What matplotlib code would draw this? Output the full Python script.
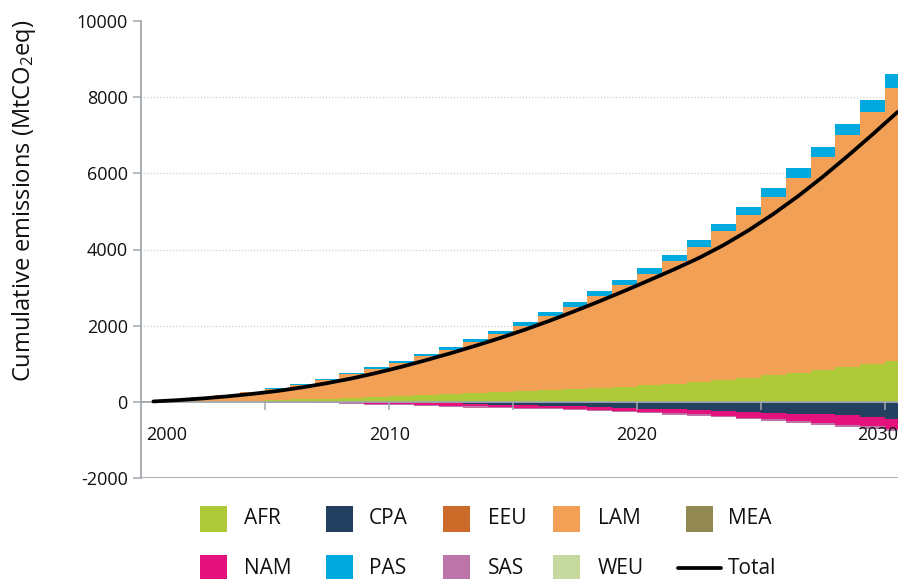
import numpy as np
import matplotlib
matplotlib.use("Agg")
import matplotlib.pyplot as plt
from matplotlib.patches import Rectangle
from matplotlib.lines import Line2D

plt.rcParams['font.family'] = ['Open Sans', 'DejaVu Sans']
plt.rcParams['mathtext.fontset'] = 'custom'
plt.rcParams['mathtext.rm'] = 'Open Sans'
plt.rcParams['mathtext.it'] = 'Open Sans'

# ---------------- data ----------------
years = list(range(2000, 2031))
series_names = ["AFR", "CPA", "EEU", "LAM", "MEA", "NAM", "PAS", "SAS", "WEU"]
AFR = [3, 8, 14, 22, 32, 45, 62, 80, 100, 120, 142, 167, 193, 220, 248, 275, 305, 337,
       370, 400, 437, 478, 528, 580, 636, 700, 766, 843, 922, 1000, 1071]
CPA = [0, 0, 0, 0, 0, 0, 0, 0, 0, -5, -10, -18, -30, -55, -80, -92, -102, -118, -136,
       -160, -178, -195, -220, -235, -262, -285, -310, -328, -358, -392, -445]
EEU = [0] * 31
LAM = [15, 48, 95, 149, 216, 294, 388, 500, 625, 748, 883, 1035, 1176, 1349, 1529, 1728,
       1942, 2162, 2406, 2663, 2922, 3218, 3541, 3897, 4273, 4682, 5123, 5584, 6081, 6602,
       7176]
MEA = [0] * 31
NAM = [0, -2, -4, -6, -9, -12, -16, -20, -35, -50, -60, -65, -75, -62, -57, -60, -63, -70,
       -75, -80, -85, -95, -110, -130, -150, -172, -200, -220, -240, -250, -260]
PAS = [2, 4, 6, 9, 12, 16, 20, 25, 30, 37, 45, 53, 62, 72, 82, 92, 102, 113, 125, 135, 145,
       158, 170, 190, 205, 222, 248, 272, 300, 320, 350]
SAS = [-1, -2, -4, -6, -8, -10, -12, -15, -18, -22, -26, -28, -30, -32, -32, -33, -35, -37,
       -40, -40, -42, -44, -46, -46, -48, -50, -52, -58, -60, -62, -65]
WEU = [0] * 31
TOTAL = [10, 45, 90, 145, 210, 285, 380, 490, 615, 760, 920, 1095, 1280, 1475, 1680, 1900,
         2135, 2385, 2645, 2915, 3195, 3480, 3780, 4120, 4505, 4935, 5405, 5915, 6460, 7025,
         7610]
x_tick_labels = ["2000", "2010", "2020", "2030"]
y_ticks = [-2000, 0, 2000, 4000, 6000, 8000, 10000]

colors = {"AFR": "#adc937", "CPA": "#234060", "EEU": "#cc6a29", "LAM": "#f3a057",
          "MEA": "#928852", "NAM": "#e5127e", "PAS": "#00aadf", "SAS": "#bb75a8",
          "WEU": "#c5d89e"}
values = {"AFR": AFR, "CPA": CPA, "EEU": EEU, "LAM": LAM, "MEA": MEA, "NAM": NAM,
          "PAS": PAS, "SAS": SAS, "WEU": WEU}

GRAY = "#a3a8ad"
W, H = 898, 579

fig = plt.figure(figsize=(W / 100, H / 100), dpi=100)
ax = fig.add_axes([141 / W, 1 - 478 / H, 1 - 141 / W, (478 - 21) / H])

x = np.array(years, dtype=float)
pos_base = np.zeros(len(years))
neg_base = np.zeros(len(years))
for name in series_names:
    v = np.array(values[name], dtype=float)
    base = np.where(v >= 0, pos_base, neg_base)
    ax.bar(x, v, width=1.0, bottom=base, align="edge", color=colors[name],
           linewidth=0, zorder=1)
    pos_base = pos_base + np.where(v >= 0, v, 0)
    neg_base = neg_base + np.where(v < 0, v, 0)

ax.plot(x + 0.5, TOTAL, color="black", lw=2.7, solid_capstyle="round", zorder=3)

# grid lines
for gy in (2000, 4000, 6000, 8000):
    ax.axhline(gy, color="#cfcfcf", lw=0.9, ls=(0, (1, 1.5)), zorder=0.5)
ax.axhline(-2000, color=GRAY, lw=1.3, zorder=0.6)

ax.set_xlim(2000, 2030.52)
ax.set_ylim(-2000, 10000)
ax.set_yticks(y_ticks)
ax.set_yticklabels([str(t) for t in y_ticks])
ax.set_xticks([2005, 2010, 2015, 2020, 2025, 2030])
ax.set_axisbelow(False)

for s in ("top", "right"):
    ax.spines[s].set_visible(False)
ax.spines["left"].set_color(GRAY)
ax.spines["left"].set_linewidth(1.3)
ax.spines["bottom"].set_position(("data", 0))
ax.spines["bottom"].set_color(GRAY)
ax.spines["bottom"].set_linewidth(1.3)
ax.spines["bottom"].set_zorder(2.6)

ax.tick_params(axis="x", direction="out", length=5.5, width=1.1, color=GRAY,
               labelbottom=False)
ax.tick_params(axis="y", direction="out", length=5.5, width=1.1, color=GRAY,
               labelsize=13, pad=4, labelcolor="#111111")

label_pos = [2001.05, 2010.04, 2019.99, 2029.68]
for lx, lt in zip(label_pos, x_tick_labels):
    ax.text(lx, -870, lt, ha="center", va="center", fontsize=13, color="#111111",
            clip_on=False)

fig.text(24 / W, 1 - 201 / H, "Cumulative emissions (MtCO$_\\mathrm{2}$eq)",
         rotation=90, ha="center", va="center", fontsize=17, color="#111111")

# legend (manual)
col_patch = [200, 326, 443, 553, 686]
col_text = [244, 369, 488, 598, 728]
row_y = [519, 568]
legend_rows = [["AFR", "CPA", "EEU", "LAM", "MEA"], ["NAM", "PAS", "SAS", "WEU", "Total"]]
for r, row in enumerate(legend_rows):
    cy = row_y[r]
    for c, name in enumerate(row):
        if name == "Total":
            fig.add_artist(Line2D([678 / W, 721 / W], [1 - cy / H, 1 - cy / H],
                                  color="black", lw=2.7, solid_capstyle="round",
                                  transform=fig.transFigure))
        else:
            px = col_patch[c]
            fig.add_artist(Rectangle((px / W, 1 - (cy + 13) / H), 27 / W, 26 / H,
                                     facecolor=colors[name], edgecolor="none",
                                     transform=fig.transFigure))
        fig.text(col_text[c] / W, 1 - cy / H, name, ha="left", va="center",
                 fontsize=15, color="#111111")

fig.savefig("out.png", dpi=100)
